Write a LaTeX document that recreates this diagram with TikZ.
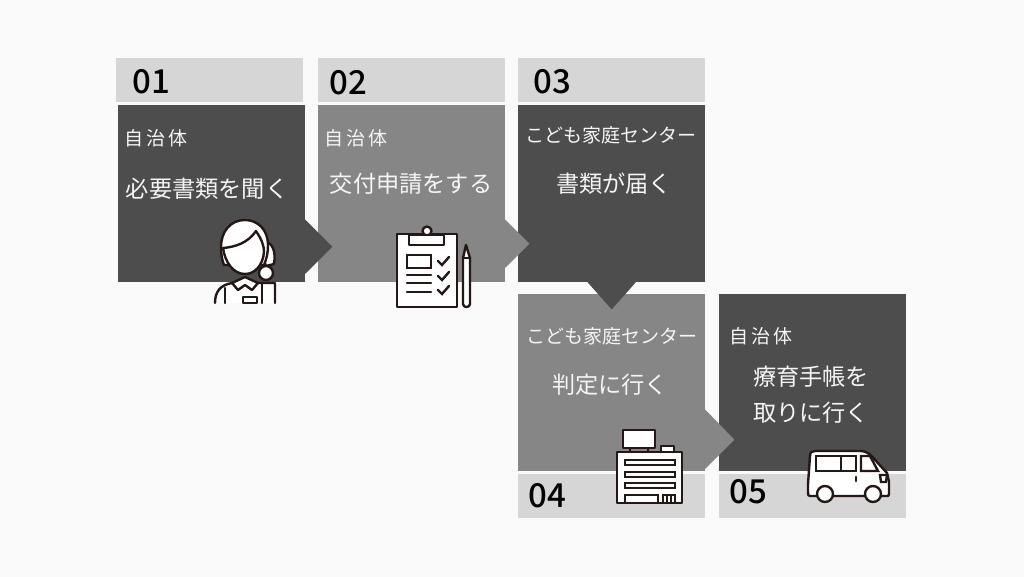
\documentclass[tikz,border=0pt]{standalone}
\usepackage{fontspec}
\setmainfont{Noto Sans CJK JP}
\newfontfamily\numfont{Noto Sans CJK JP Medium}
\usepackage{xcolor}
\usetikzlibrary{calc}
\definecolor{pagegray}{HTML}{FAFAFA}
\definecolor{tabgray}{HTML}{D6D6D6}
\definecolor{darkbox}{HTML}{4D4D4D}
\definecolor{midbox}{HTML}{868686}
\definecolor{iconline}{HTML}{231815}
\definecolor{boxtext}{HTML}{F5F5F5}

\begin{document}
\begin{tikzpicture}[
    x=1pt, y=-1pt,
    tabbox/.style={fill=tabgray, minimum width=187pt, minimum height=44pt, inner sep=0pt, anchor=north west},
    stepbox/.style={minimum width=187pt, minimum height=177pt, inner sep=0pt, anchor=north west},
    numtext/.style={font=\numfont\fontsize{33}{33}\selectfont, text=black, inner sep=0pt},
    whotext/.style={font=\fontsize{19}{19}\selectfont, text=boxtext, inner sep=0pt},
    whattext/.style={font=\fontsize{23.2}{36}\selectfont, text=boxtext, inner sep=0pt, align=center},
    icon/.style={draw=iconline, fill=white, line width=2.4pt, line join=round, line cap=round},
    iconbar/.style={draw=iconline, line width=2.4pt, line cap=round}
]
\useasboundingbox (0,0) rectangle (1024,577);
\fill[pagegray] (0,0) rectangle (1024,577);

% tabs and boxes
\node[tabbox] (tab1) at (116,58) {};
\node[tabbox] (tab2) at (318,58) {};
\node[tabbox] (tab3) at (518,58) {};
\node[tabbox] (tab4) at (518,474) {};
\node[tabbox] (tab5) at (719,474) {};
\node[stepbox, fill=darkbox] (step1) at (118,105) {};
\node[stepbox, fill=midbox] (step2) at (318,105) {};
\node[stepbox, fill=darkbox] (step3) at (518,105) {};
\node[stepbox, fill=midbox] (step4) at (518,294) {};
\node[stepbox, fill=darkbox] (step5) at (719,294) {};

% arrows
\fill[darkbox] ($(step1.east)+(-1,26)$) -- ++(1,0) -- ++(27,27) -- ++(-27,27) -- ++(-1,0) -- cycle;
\fill[midbox] ($(step2.east)+(-1,26)$) -- ++(1,0) -- ++(24,24) -- ++(-24,24) -- ++(-1,0) -- cycle;
\fill[darkbox] ($(step3.south)+(-24,-1)$) -- ++(0,1) -- ++(24,27) -- ++(24,-27) -- ++(0,-1) -- cycle;
\fill[midbox] ($(step4.east)+(-1,27)$) -- ++(1,0) -- ++(29,30) -- ++(-29,29) -- ++(-1,0) -- cycle;

% texts
\node[numtext] (num1) at (151,82) {01};
\node[numtext] (num2) at (348,83) {02};
\node[numtext] (num3) at (552,82) {03};
\node[numtext] (num4) at (547,496) {04};
\node[numtext] (num5) at (748,492) {05};
\node[whotext, anchor=west] (who1) at (124,138) {自\,治\,体};
\node[whotext, anchor=west] (who2) at (324,138) {自\,治\,体};
\node[whotext] (who3) at (611,135) {こども家庭センター};
\node[whotext] (who4) at (612,336) {こども家庭センター};
\node[whotext, anchor=west] (who5) at (729,336) {自\,治\,体};
\node[whattext] (what1) at (207,189) {必要書類を聞く};
\node[whattext] (what2) at (411,184) {交付申請をする};
\node[whattext] (what3) at (614,184) {書類が届く};
\node[whattext] (what4) at (610,385) {判定に行く};
\node[whattext] (what5) at (811,395) {療育手帳を\\取りに行く};

% woman on the phone
\draw[icon] (262,241) .. controls (273,241) and (276,252) .. (274,264) -- (266,266) -- (260,250) -- cycle;
\draw[icon] (215,303) .. controls (215,292) and (220,285) .. (232,283) -- (262,283) -- (275,283) -- (275,303);
\draw[iconbar] (225,303) -- (225,288);
\draw[iconbar] (262,303) -- (262,284);
\draw[icon] (232,283) -- (245,277) -- (258,283) -- (252,290) -- (245,285) -- (238,290) -- cycle;
\draw[icon] (243,297) rectangle (257,303);
\draw[icon] (245,220) .. controls (230,220) and (221,232) .. (221,247) .. controls (221,254) and (222,260) .. (224,265) -- (264,265) .. controls (267,258) and (268,252) .. (268,245) .. controls (268,230) and (258,220) .. (245,220) -- cycle;
\draw[icon] (223,248) .. controls (235,247) and (248,243) .. (256,231) .. controls (262,240) and (264,246) .. (264,252) .. controls (263,265) and (255,274) .. (245,274) .. controls (233,274) and (225,262) .. (223,248) -- cycle;
\draw[icon] (266,273) circle (7);

% clipboard and pencil
\draw[icon] (397,234) rectangle (457,307);
\draw[icon] (427,231) circle (4.5);
\draw[icon] (409,235) rectangle (444,245);
\draw[iconbar] (407,255) rectangle (431,268);
\foreach \ly in {275,283,292} {
    \draw[iconbar] (407,\ly) -- (431,\ly);
}
\foreach \cy in {261,276,290} {
    \draw[iconbar] (438,\cy) -- (442,\cy+4) -- (449,\cy-4);
}
\draw[icon] (463,258) -- (466,245) -- (470,258) -- (470,304) .. controls (470,308) and (463,308) .. (463,304) -- cycle;
\draw[iconbar] (463,258) -- (470,258);

% office building
\draw[iconbar] (630,448) -- (630,452);
\draw[iconbar] (648,448) -- (648,452);
\draw[icon] (623,430) rectangle (655,448);
\draw[icon] (661,446) rectangle (674,452);
\draw[icon] (617,452) rectangle (682,503);
\foreach \sy in {460,472,483} {
    \draw[iconbar, line width=2pt] (625,\sy) rectangle (675,\sy+5);
}
\draw[iconbar, line width=2pt] (625,503) -- (625,495) -- (658,495) -- (658,503);
\draw[iconbar, line width=2pt] (663,503) -- (663,495) -- (675,495) -- (675,503);
\draw[iconbar, line width=1.5pt] (667,495) -- (667,503);
\draw[iconbar, line width=1.5pt] (671,495) -- (671,503);

% van
\draw[icon] (810,496) .. controls (808,496) and (808,495) .. (808,492) -- (808,484) -- (810,456) .. controls (810,452) and (812,451) .. (815,451) -- (860,451) .. controls (868,451) and (872,456) .. (876,461) -- (887,473) -- (889,482) -- (889,494) .. controls (889,496) and (888,496) .. (887,496) -- cycle;
\draw[iconbar] (816,456) rectangle (856,471);
\draw[iconbar] (841,456) -- (841,471);
\draw[iconbar] (861,456) -- (870,456) -- (878,471) -- (861,471) -- cycle;
\draw[iconbar] (856,477) -- (856,481);
\draw[iconbar] (880,475) -- (887,475) -- (886,482) -- (881,482) -- cycle;
\draw[icon] (825,494) circle (8);
\draw[icon] (873,494) circle (8);
\end{tikzpicture}
\end{document}
